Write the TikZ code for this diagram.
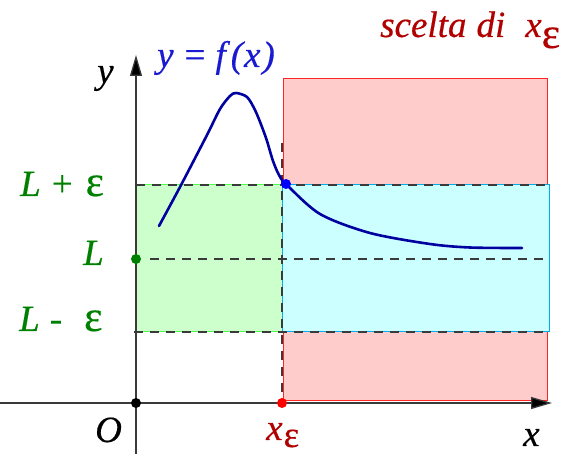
\documentclass[tikz,border=0pt]{standalone}
\usepackage{fontspec}
\setmainfont{Liberation Serif}[FakeBold=0.4]
\newfontface\itf{Liberation Serif Italic}[FakeBold=0.4]
\usetikzlibrary{arrows.meta}
\definecolor{lgreen}{HTML}{008000}
\definecolor{dred}{HTML}{B00000}
\definecolor{tblue}{HTML}{1A1AD0}
\definecolor{cblue}{HTML}{0000A0}
\definecolor{redfill}{HTML}{FFCCCC}
\definecolor{cyanfill}{HTML}{CCFFFF}
\definecolor{greenfill}{HTML}{CCFFCC}
\definecolor{axisgray}{HTML}{3A3A3A}
\newcommand{\epsbig}{\scalebox{1.18}{ε}}
\newcommand{\iv}[1]{{\itf #1}}
\tikzset{
  lbl/.style={inner sep=0pt, anchor=base west, font=\fontsize{37}{42}\selectfont},
  axisln/.style={draw=axisgray, line width=1.3pt, -{Triangle[length=21pt,width=12pt,fill=black]}},
  dashln/.style={draw=axisgray, line width=1.3pt, dash pattern=on 9pt off 7pt},
  dotnode/.style={circle, inner sep=0pt, minimum size=10pt},
}
\begin{document}
\begin{tikzpicture}[x=1pt,y=-1pt]
\useasboundingbox (0,0) rectangle (571,454);
% regions
\filldraw[fill=redfill, draw=red!85, line width=1pt] (283,79) rectangle (547,401);
\filldraw[fill=greenfill, draw=green!70, line width=1pt] (136,185) rectangle (282,332);
\filldraw[fill=cyanfill, draw=cyan, line width=1pt] (282,185) rectangle (549,332);
% coordinates
\coordinate (o) at (136,403);
\coordinate (xe) at (282,403);
\coordinate (xend) at (552,403);
\coordinate (xstart) at (0,403);
\coordinate (ystart) at (136,454);
\coordinate (yend) at (136,55);
\coordinate (lpe) at (136,185);
\coordinate (lpeR) at (549,185);
\coordinate (l) at (136,259);
\coordinate (lR) at (549,259);
\coordinate (lme) at (134,332);
\coordinate (lmeR) at (549,332);
\coordinate (vtop) at (282,143);
% dashed lines
\draw[dashln] (lpe) -- (lpeR);
\draw[dashln] ([xshift=14pt]l) -- (lR);
\draw[dashln] (lme) -- (lmeR);
\draw[dashln] (vtop) -- (xe);
% axes
\draw[axisln] (xstart) -- (xend);
\draw[axisln] (ystart) -- (yend);
% curve
\draw[cblue, line width=2.6pt, line cap=round] plot[smooth, tension=0.5] coordinates {
  (159,226) (180,187) (207,135) (220,109) (230,96) (236,93) (247,97) (255,110) (262,127) (267,141) (273,161) (279,175) (286,184)
  (320,214) (370,233) (430,244) (470,247.5) (522,248)};
% dots
\node[dotnode, fill=lgreen] (ldot) at (l) {};
\node[dotnode, fill=black] (odot) at (o) {};
\node[dotnode, fill=red] (xedot) at (xe) {};
\node[dotnode, fill=blue] (pdot) at (286,184) {};
% labels
\node[lbl, lgreen] (tlpe) at (20,196) {\iv{L}\hspace{11pt}+\hspace{13pt}\epsbig};
\node[lbl, lgreen] (tl) at (83,265) {\iv{L}};
\node[lbl, lgreen] (tlme) at (19,331) {\iv{L}\hspace{10pt}-\hspace{22pt}\epsbig};
\node[lbl] (ty) at (97,83) {\iv{y}};
\node[lbl, tblue] (tf) at (157,67) {\iv{y}\hspace{11pt}=\hspace{10pt}\iv{f}\hspace{5pt}\iv{(}\hspace{1pt}\iv{x}\hspace{2pt}\iv{)}};
\node[lbl, dred] (tsc) at (380,37) {\iv{scelta}\hspace{10pt}\iv{di}\hspace{20pt}\iv{x}\raisebox{-11pt}{\epsbig}};
\node[lbl] (tO) at (95,442) {\iv{O}};
\node[lbl, dred] (txe) at (266,440) {\iv{x}\hspace{1pt}\raisebox{-7pt}{ε}};
\node[lbl] (tx) at (523,446) {\iv{x}};
\end{tikzpicture}
\end{document}
